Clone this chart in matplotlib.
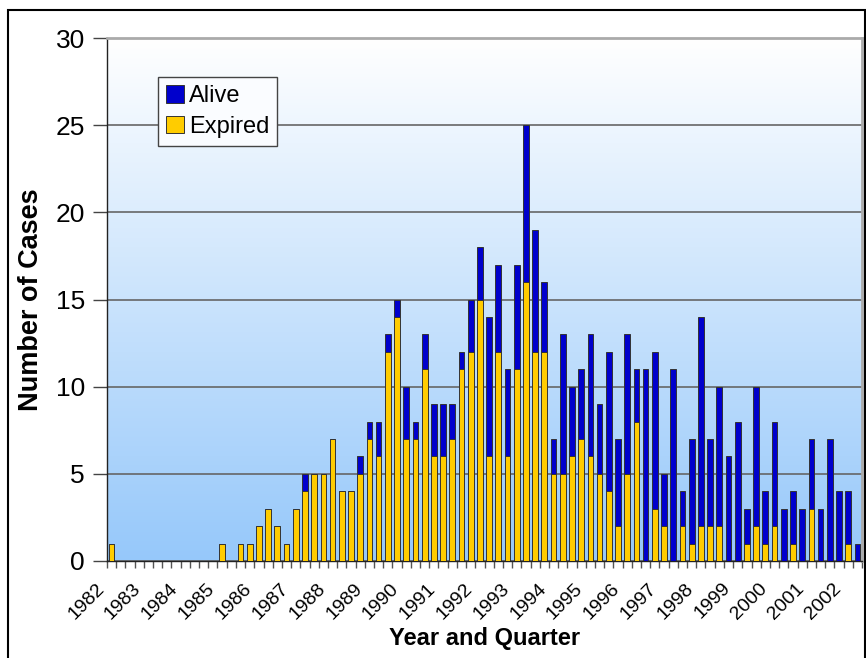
import numpy as np
import matplotlib
matplotlib.use("Agg")
import matplotlib.pyplot as plt
import matplotlib.transforms as mtransforms
from matplotlib.patches import Rectangle

plt.rcParams['font.family'] = ['Liberation Sans', 'DejaVu Sans']

# --------------------------
# Data: quarterly counts, 1982 Q1 .. 2002 Q2
# --------------------------
years = list(range(1982, 2003))
quarters = [f"{y} Q{q}" for y in years for q in range(1, 5)][:82]
tick_labels = [q.split()[0] if q.endswith("Q1") else "" for q in quarters]

expired = [1, 0, 0, 0, 0, 0, 0, 0, 0, 0, 0, 0, 1, 0, 1, 1, 2, 3, 2, 1,
           3, 4, 5, 5, 7, 4, 4, 5, 7, 6, 12, 14, 7, 7, 11, 6, 6, 7, 11, 12,
           15, 6, 12, 6, 11, 16, 12, 12, 5, 5, 6, 7, 6, 5, 4, 2, 5, 8, 0, 3,
           2, 0, 2, 1, 2, 2, 2, 0, 0, 1, 2, 1, 2, 0, 1, 0, 3, 0, 0, 0,
           1, 0]
alive = [0, 0, 0, 0, 0, 0, 0, 0, 0, 0, 0, 0, 0, 0, 0, 0, 0, 0, 0, 0,
         0, 1, 0, 0, 0, 0, 0, 1, 1, 2, 1, 1, 3, 1, 2, 3, 3, 2, 1, 3,
         3, 8, 5, 5, 6, 9, 7, 4, 2, 8, 4, 4, 7, 4, 8, 5, 8, 3, 11, 9,
         3, 11, 2, 6, 12, 5, 8, 6, 8, 2, 8, 3, 6, 3, 3, 3, 4, 3, 7, 4,
         3, 1]

blue = '#0000CC'
gold = '#FFCC00'

# --------------------------
# Figure
# --------------------------
fig = plt.figure(figsize=(8.66, 6.58), dpi=100)
ax = fig.add_axes([107/866, 1 - 561/658, 755/866, (561 - 38)/658])

# gradient plot background (white at top, light blue at bottom)
grad = np.linspace(0, 1, 256).reshape(-1, 1)
cmap = matplotlib.colors.LinearSegmentedColormap.from_list('bg', ['#FFFFFF', '#96C8FA'])
ax.imshow(grad, aspect='auto', cmap=cmap, extent=[0, 1, 0, 1], origin='upper',
          transform=ax.transAxes, zorder=0)

x = np.arange(len(quarters))
ax.bar(x, expired, width=0.62, color=gold, edgecolor='#333333', linewidth=0.7,
       label='Expired', zorder=3)
ax.bar(x, alive, width=0.62, bottom=expired, color=blue, edgecolor='#333333',
       linewidth=0.7, label='Alive', zorder=3)

ax.set_xlim(-0.5, len(quarters) - 0.5)
ax.set_ylim(0, 30)
ax.set_yticks(range(0, 31, 5))
ax.yaxis.grid(True, color='#666666', linewidth=1.2, zorder=1)
ax.set_axisbelow(True)
ax.tick_params(axis='y', labelsize=19, length=10, width=1, color='#444444', pad=6)

# x ticks: labels at year starts, small ticks at category boundaries
ax.set_xticks(x[::4])
ax.set_xticklabels(tick_labels[::4], rotation=45, ha='right', va='top',
                   rotation_mode='anchor', fontsize=14)
ax.tick_params(axis='x', length=0, pad=13.5)
offset = mtransforms.ScaledTranslation(-16/100, 0, fig.dpi_scale_trans)
for lab in ax.get_xticklabels():
    lab.set_transform(lab.get_transform() + offset)
ax.set_xticks(np.arange(-0.5, len(quarters), 1), minor=True)
ax.tick_params(axis='x', which='minor', length=5, width=1, color='#555555')

for side in ['left', 'bottom']:
    ax.spines[side].set_color('#222222')
    ax.spines[side].set_linewidth(1)
for side in ['top', 'right']:
    ax.spines[side].set_color('#AAAAAA')
    ax.spines[side].set_linewidth(2)

ax.set_ylabel('Number of Cases', fontsize=19.5, fontweight='bold', labelpad=8)
fig.text(485/866, 1 - 638/658, 'Year and Quarter', fontsize=17,
         fontweight='bold', ha='center', va='center')

handles, labels = ax.get_legend_handles_labels()
leg = ax.legend(handles[::-1], labels[::-1], loc='upper left',
                bbox_to_anchor=(51/755, 1 - 39/523), fontsize=17,
                frameon=True, fancybox=False, framealpha=1,
                handlelength=0.75, handleheight=0.75, handletextpad=0.2,
                borderpad=0.35, labelspacing=0.35, borderaxespad=0)
leg.get_frame().set_edgecolor('#444444')
leg.get_frame().set_facecolor('#FAFCFF')
leg.get_frame().set_linewidth(1)

# outer frame
fig.patches.append(Rectangle((8/866, -0.05), (865 - 8)/866, 1.05 - 10/658,
                             transform=fig.transFigure, fill=False,
                             edgecolor='black', linewidth=1.5))

fig.savefig('out.png', dpi=100)
